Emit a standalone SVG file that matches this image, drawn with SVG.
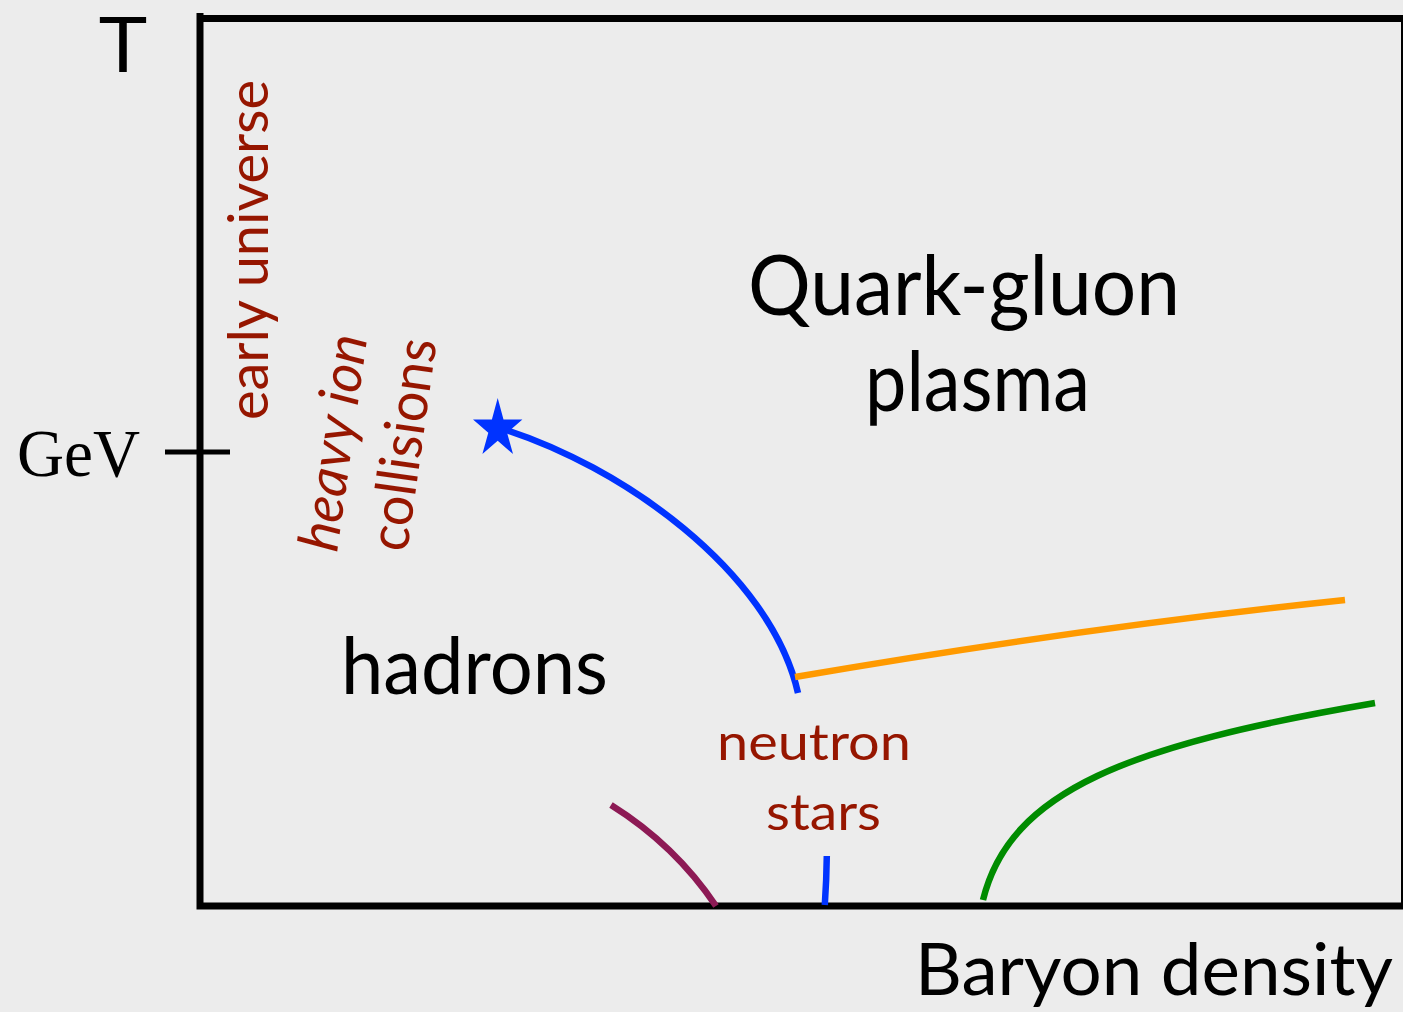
<svg xmlns="http://www.w3.org/2000/svg" width="1403" height="1012" viewBox="0 0 1403 1012">
  <style>
    .sans { font-family: "Lato", "Liberation Sans", sans-serif; }
    .serif { font-family: "Liberation Serif", "Times New Roman", serif; }
    .black { fill: #000000; }
    .red { fill: #961600; }
    .axis { fill: none; stroke: #000000; stroke-width: 7; }
    .curve { fill: none; stroke-width: 6.5; stroke-linecap: butt; }
  </style>
  <rect x="0" y="0" width="1403" height="1012" fill="#ececec"/>

  <g id="axes">
    <path class="axis" d="M200,13 L200,906 L1406,906 M196.5,18.5 L1406,18.5"/>
    <line x1="1404.5" y1="15" x2="1404.5" y2="909" stroke="#000" stroke-width="7"/>
    <line id="gev-tick" x1="165" y1="452" x2="230" y2="452" stroke="#000" stroke-width="5"/>
  </g>

  <g id="axis-labels">
    <text id="label-T" x="98" y="72" font-family="'Liberation Sans', Arial, sans-serif" font-size="79" fill="#000" textLength="50" lengthAdjust="spacingAndGlyphs">T</text>
    <text id="label-GeV" class="serif black" x="17" y="476" font-size="67" textLength="123" lengthAdjust="spacingAndGlyphs">GeV</text>
    <text id="label-baryon" class="sans black" x="915" y="995" font-size="72" textLength="478" lengthAdjust="spacingAndGlyphs">Baryon density</text>
  </g>

  <g id="connectors">
    <path id="crossover-line" class="curve" stroke="#0033ff" d="M500,428 C620,465 770,570 798,693"/>
    <path id="orange-line" class="curve" stroke="#ff9a00" stroke-width="6" d="M795,677 Q1080,628 1345,600"/>
    <path id="green-line" class="curve" stroke="#008c00" stroke-width="7.5" d="M983,900 C1010,790 1130,745 1375,703"/>
    <path id="purple-line" class="curve" stroke="#8d1a55" stroke-width="7" d="M611,805 Q675,845 716,906"/>
    <path id="blue-short" class="curve" stroke="#0033ff" d="M826.8,856 Q826.5,880 824.8,905"/>
  </g>

  <g id="critical-point">
    <polygon fill="#0033ff" points="497.7,398 503.5,419.4 522.4,419.4 507.1,432.7 513,454.1 497.7,440.8 482.4,454.1 488.3,432.7 473,419.4 491.9,419.4"/>
  </g>

  <g id="region-labels">
    <text id="label-qgp1" class="sans black" x="748" y="315" font-size="83" textLength="432" lengthAdjust="spacingAndGlyphs">Quark-gluon</text>
    <text id="label-qgp2" class="sans black" x="865" y="411" font-size="83" textLength="225" lengthAdjust="spacingAndGlyphs">plasma</text>
    <text id="label-hadrons" class="sans black" x="341" y="694" font-size="79" textLength="267" lengthAdjust="spacingAndGlyphs">hadrons</text>
  </g>

  <g id="experiment-labels">
    <text id="label-early" class="sans red" font-size="56" transform="translate(268,420) rotate(-90)" x="0" y="0" textLength="340" lengthAdjust="spacingAndGlyphs">early universe</text>
    <text id="label-heavy" class="sans red" font-size="56" font-style="italic" transform="translate(337,553) rotate(-82)" x="0" y="0" textLength="218" lengthAdjust="spacingAndGlyphs">heavy ion</text>
    <text id="label-collisions" class="sans red" font-size="56" transform="translate(407,553) rotate(-82)" x="0" y="0" textLength="214" lengthAdjust="spacingAndGlyphs">collisions</text>
    <text id="label-neutron" class="sans red" x="717" y="760" font-size="50" textLength="194" lengthAdjust="spacingAndGlyphs">neutron</text>
    <text id="label-stars" class="sans red" x="766" y="830" font-size="50" textLength="115" lengthAdjust="spacingAndGlyphs">stars</text>
  </g>
</svg>
